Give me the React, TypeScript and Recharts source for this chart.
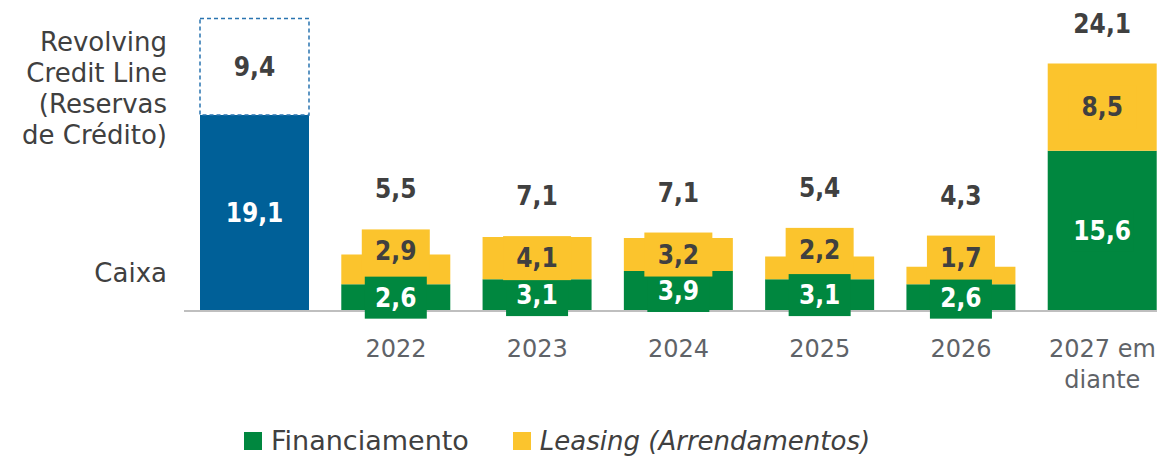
import React from 'react';
import { BarChart, Bar, XAxis, YAxis, LabelList } from 'recharts';

const categories = ['', '2022', '2023', '2024', '2025', '2026', '2027 em diante'];
const caixa = [19.1, 0, 0, 0, 0, 0, 0];
const revolving = [9.4, 0, 0, 0, 0, 0, 0];
const financiamento = [0, 2.6, 3.1, 3.9, 3.1, 2.6, 15.6];
const leasing = [0, 2.9, 4.1, 3.2, 2.2, 1.7, 8.5];
const totals = [0, 5.5, 7.1, 7.1, 5.4, 4.3, 24.1];

const BLUE = '#006098';
const GREEN = '#00873f';
const YELLOW = '#fbc42d';
const DARK = '#404040';
const GREY = '#5f6368';
const BOLD_FONT = '"DejaVu Sans Condensed", "DejaVu Sans", sans-serif';
const FONT = '"DejaVu Sans", sans-serif';

const data = categories.map((name, i) => ({
  name,
  caixa: caixa[i],
  revolving: revolving[i],
  financiamento: financiamento[i],
  leasing: leasing[i],
}));

const fmt = (v: number) => v.toFixed(1).replace('.', ',');

const box = (props: any) => {
  const vb = props.viewBox || props;
  return { x: vb.x ?? props.x, y: vb.y ?? props.y, w: vb.width ?? props.width, h: vb.height ?? props.height };
};

// labels use the category name as value, so look the row up by name
const rowOf = (props: any) => categories.indexOf(String(props.value));

const valueText = (x: number, y: number, v: number, color: string) => (
  <text x={x} y={y} textAnchor="middle" dominantBaseline="central" fill={color}
    style={{ fontFamily: BOLD_FONT, fontWeight: 700, fontSize: 26 }}>{fmt(v)}</text>
);

const CaixaLabel = (props: any) => {
  const { x, y, w, h } = box(props);
  const i = rowOf(props);
  const v = caixa[i];
  if (!v) return null;
  return (
    <g>
      {valueText(x + w / 2, y + h / 2, v, '#fff')}
      <text x={x - 33} y={y + h - 29} textAnchor="end" fill={DARK}
        style={{ fontFamily: FONT, fontSize: 26 }}>Caixa</text>
    </g>
  );
};

const revLines = ['Revolving', 'Credit Line', '(Reservas', 'de Crédito)'];

const RevolvingLabel = (props: any) => {
  const { x, y, w, h } = box(props);
  const i = rowOf(props);
  const v = revolving[i];
  if (!v) return null;
  return (
    <g>
      {valueText(x + w / 2, y + h / 2, v, DARK)}
      <text textAnchor="end" fill={DARK} style={{ fontFamily: FONT, fontSize: 26 }}>
        {revLines.map((l, k) => (
          <tspan key={k} x={x - 33} y={y + 33 + k * 31}>{l}</tspan>
        ))}
      </text>
    </g>
  );
};

const LeasingLabel = (props: any) => {
  const { x, y, w, h } = box(props);
  const i = rowOf(props);
  const lv = leasing[i];
  const fv = financiamento[i];
  const tv = totals[i];
  if (!lv || !fv) return null;
  const cx = x + w / 2;
  const ppu = h / lv;
  const gC = y + h + (fv * ppu) / 2;
  const yC = h < 31 ? y + h / 2 - 18 : y + h / 2;
  const top = Math.min(y, yC - 22);
  return (
    <g>
      <rect x={cx - 31} y={gC - 21} width={62} height={42} fill={GREEN} />
      <rect x={cx - 34} y={yC - 22} width={68} height={44} fill={YELLOW} />
      {valueText(cx, gC, fv, '#fff')}
      {valueText(cx, yC, lv, DARK)}
      {tv ? valueText(cx, top - 40, tv, DARK) : null}
    </g>
  );
};

const CategoryTick = (props: any) => {
  const { x, y, payload } = props;
  const words = String(payload.value).split(' ');
  const lines = words.length > 2 ? [words.slice(0, 2).join(' '), words.slice(2).join(' ')] : [payload.value];
  return (
    <text textAnchor="middle" fill={GREY} style={{ fontFamily: FONT, fontSize: 24 }}>
      {lines.map((l: string, k: number) => (
        <tspan key={k} x={x} y={y + 46 + k * 31}>{l}</tspan>
      ))}
    </text>
  );
};

const legendItems = [
  { label: 'Financiamento', color: GREEN, italic: false },
  { label: 'Leasing (Arrendamentos)', color: YELLOW, italic: true },
];

export default function App() {
  return (
    <div style={{ position: 'absolute', left: 0, top: 0, width: 1157, height: 456, overflow: 'hidden', background: '#fff' }}>
      <BarChart width={1173} height={456} data={data} margin={{ top: 3, right: 0, left: 184, bottom: 85 }} barSize={109}>
        <XAxis dataKey="name" height={60} tickLine={false} tickSize={0} tickMargin={0}
          axisLine={{ stroke: '#bfbfbf', strokeWidth: 2 }} tick={<CategoryTick />} interval={0} />
        <YAxis hide domain={[0, 30]} />
        <Bar dataKey="caixa" stackId="a" fill={BLUE} isAnimationActive={false}>
          <LabelList dataKey="name" content={CaixaLabel} />
        </Bar>
        <Bar dataKey="revolving" stackId="a" fill="#fff" stroke="#2a74b0" strokeWidth={1.5}
          strokeDasharray="4 3" isAnimationActive={false}>
          <LabelList dataKey="name" content={RevolvingLabel} />
        </Bar>
        <Bar dataKey="financiamento" stackId="a" fill={GREEN} isAnimationActive={false} />
        <Bar dataKey="leasing" stackId="a" fill={YELLOW} isAnimationActive={false}>
          <LabelList dataKey="name" content={LeasingLabel} />
        </Bar>
      </BarChart>
      <div style={{ position: 'absolute', top: 426, left: 244, display: 'flex', fontFamily: FONT, fontSize: 27, color: DARK }}>
        {legendItems.map((it, k) => (
          <div key={k} style={{ display: 'flex', alignItems: 'center', marginRight: 44 }}>
            <span style={{ width: 18, height: 18, background: it.color, display: 'inline-block', marginRight: 9 }} />
            <span style={{ fontStyle: it.italic ? 'italic' : 'normal', lineHeight: '30px', fontSize: it.italic ? 26 : 27 }}>{it.label}</span>
          </div>
        ))}
      </div>
    </div>
  );
}
